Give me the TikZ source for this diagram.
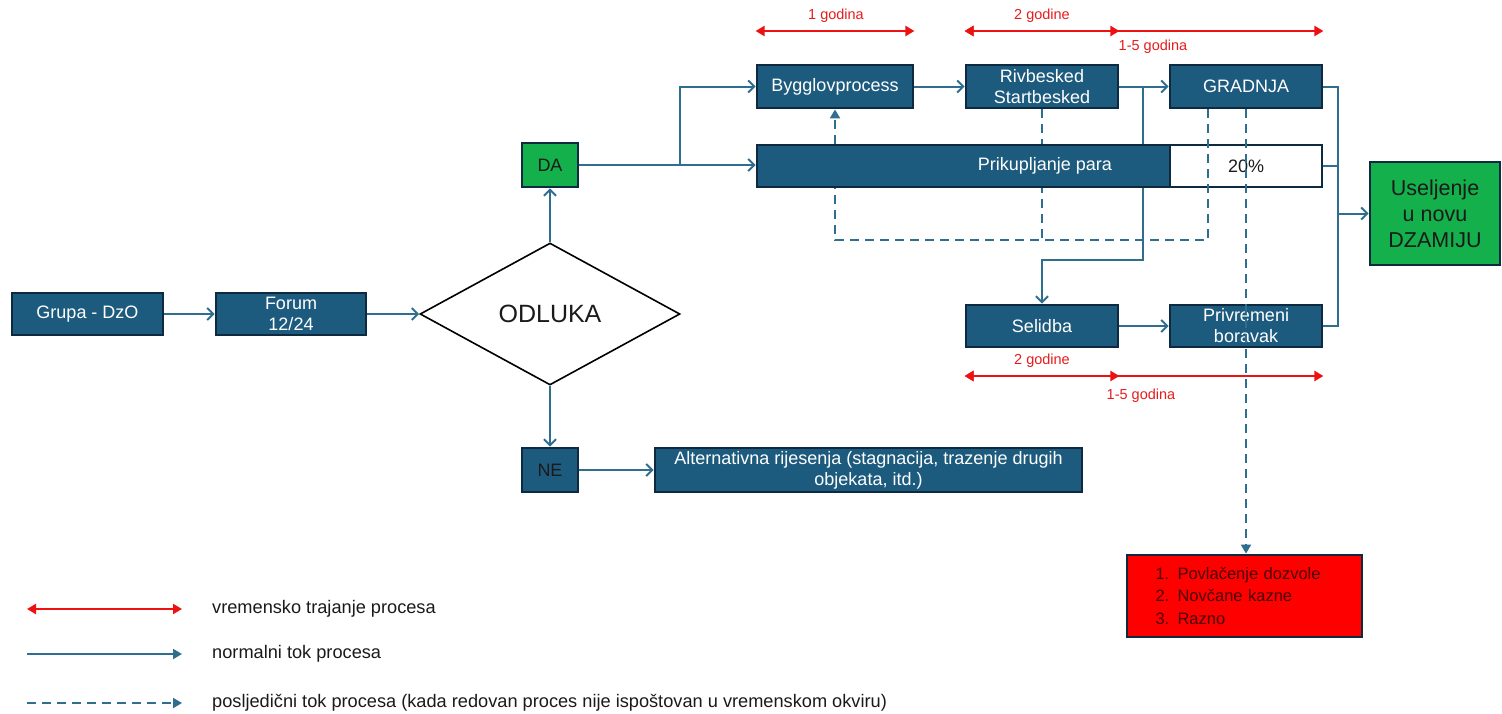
\documentclass[tikz,border=0pt]{standalone}
\usepackage{fontspec}
\setmainfont{Liberation Sans}
\usetikzlibrary{arrows.meta,shapes.geometric}
\definecolor{boxblue}{HTML}{1D5B7E}
\definecolor{boxedge}{HTML}{0E2A40}
\definecolor{flowc}{HTML}{2F6E8F}
\definecolor{greenc}{HTML}{14B04C}
\definecolor{timec}{HTML}{EE1111}
\definecolor{redlbl}{HTML}{E51C1C}
\definecolor{darktxt}{HTML}{1A1A1A}
\definecolor{redtxt}{HTML}{4A0000}
\begin{document}
\begin{tikzpicture}[x=1pt,y=-1pt,
  box/.style={draw=boxedge,line width=2.8pt,fill=boxblue,text=white,inner sep=0pt,align=center,font=\fontsize{18}{21}\selectfont},
  gbox/.style={box,fill=greenc,text=darktxt},
  flow/.style={draw=flowc,line width=2pt,-{Straight Barb[length=6pt,width=12pt,line width=2pt]}},
  line/.style={draw=flowc,line width=2pt},
  dashline/.style={draw=flowc,line width=2pt,dash pattern=on 9pt off 6pt},
  dashflow/.style={dashline,-{Triangle[length=9pt,width=10pt]}},
  timeline/.style={draw=timec,line width=2.8pt,{Triangle[length=9pt,width=10pt]}-{Triangle[length=9pt,width=10pt]}},
  timelbl/.style={text=redlbl,font=\fontsize{14.5}{17}\selectfont,inner sep=0pt},
  legtxt/.style={anchor=west,text=darktxt,font=\fontsize{18.2}{21}\selectfont,inner sep=0pt},
  legflow/.style={draw=flowc,line width=2pt,-{Triangle[length=9pt,width=10pt]}}
]
\useasboundingbox (0,0) rectangle (1502,713);

% main nodes
\node[box,minimum width=151pt,minimum height=42pt] (grupa) at (87.5,314) {Grupa - DzO};
\node[box,minimum width=150pt,minimum height=42pt] (forum) at (291,314) {Forum\\12/24};
\node[draw=black,line width=1.6pt,shape=diamond,minimum width=260pt,minimum height=142pt,inner sep=0pt,font=\fontsize{25}{28}\selectfont,text=darktxt] (odluka) at (550,314) {ODLUKA};
\node[gbox,minimum width=56pt,minimum height=44pt] (da) at (550,165) {DA};
\node[box,text=darktxt,minimum width=56pt,minimum height=44pt] (ne) at (550,470) {NE};
\node[box,minimum width=427pt,minimum height=44pt] (alt) at (868.5,470) {Alternativna rijesenja (stagnacija, trazenje drugih\\objekata, itd.)};
\node[box,minimum width=156pt,minimum height=43pt] (byg) at (835,86.5) {Bygglovprocess};
\node[box,minimum width=152pt,minimum height=43pt] (riv) at (1042,86.5) {Rivbesked\\Startbesked};
\node[box,minimum width=152pt,minimum height=43pt] (grad) at (1246,86.5) {GRADNJA};
\node[box,fill=white,text=darktxt,minimum width=152pt,minimum height=42pt] (pct) at (1246,166) {20\%};
\node[box,minimum width=152pt,minimum height=42pt] (sel) at (1042,326) {Selidba};
\node[box,minimum width=152pt,minimum height=42pt] (priv) at (1246,326) {Privremeni\\boravak};
\node[gbox,minimum width=130pt,minimum height=103pt,font=\fontsize{21.5}{26}\selectfont] (usel) at (1435,213.5) {Useljenje\\u novu\\DZAMIJU};
\node[box,fill=red,text=redtxt,minimum width=235pt,minimum height=82pt,text width=178pt,align=left,font=\fontsize{16.5}{22.5}\selectfont] (red) at (1244.5,596) {1. Povlačenje dozvole\\2. Novčane kazne\\3. Razno};

% dashed loop (behind the funding bar)
\coordinate (dl) at (0,240);
\draw[dashflow] ([xshift=-38pt]grad.south) -- ([xshift=-38pt]grad.south |- dl) -- (byg.south |- dl) -- (byg.south);
\draw[dashline] (riv.south) -- (riv.south |- dl);

% solid branch to Selidba (behind the funding bar)
\coordinate (j2) at (1143,86.5);
\coordinate (j3) at (1143,260);
\draw[flow] (j2) -- (j3) -| (sel.north);

% funding bar
\node[box,minimum width=413pt,minimum height=42pt] (bar) at (963.5,166) {};
\node[text=white,font=\fontsize{18}{21}\selectfont,inner sep=0pt] (barlbl) at (1045,166) {Prikupljanje para};

% connectors
\draw[flow] (grupa) -- (forum);
\draw[flow] (forum) -- (odluka);
\draw[flow] (odluka) -- (da);
\draw[flow] (odluka) -- (ne);
\draw[flow] (ne) -- (alt);
\coordinate (j1) at (680,165);
\draw[flow] (da.east) -- (da.east -| bar.west);
\draw[flow] (j1) |- (byg.west);
\draw[flow] (byg) -- (riv);
\draw[flow] (riv) -- (grad);
\draw[flow] (sel) -- (priv);
\coordinate (bus) at (1338,0);
\draw[line] (grad.east) -- (grad.east -| bus) -- (priv.east -| bus) -- (priv.east);
\draw[line] (pct.east) -- (pct.east -| bus);
\draw[flow] (bus |- usel.west) -- (usel.west);

% consequence line to red box
\draw[dashflow] (grad.south) -- (grad.south |- red.north);

% time spans top
\coordinate (tt) at (0,31);
\draw[timeline] (byg.west |- tt) -- (byg.east |- tt);
\node[timelbl] (l1) at (836,16) {1 godina};
\draw[timeline] (riv.west |- tt) -- (grad.east |- tt);
\draw[timeline] (riv.west |- tt) -- (riv.east |- tt);
\node[timelbl] (l2) at (1042,16) {2 godine};
\node[timelbl] (l3) at (1153,47) {1-5 godina};

% time spans bottom
\coordinate (tb) at (0,376);
\draw[timeline] (sel.west |- tb) -- (priv.east |- tb);
\draw[timeline] (sel.west |- tb) -- (sel.east |- tb);
\node[timelbl] (l4) at (1042,361) {2 godine};
\node[timelbl] (l5) at (1141,396) {1-5 godina};

% legend
\coordinate (la1) at (27,609); \coordinate (lb1) at (182,609);
\coordinate (la2) at (27,654); \coordinate (lb2) at (182,654);
\coordinate (la3) at (27,703); \coordinate (lb3) at (182,703);
\draw[timeline] (la1) -- (lb1);
\draw[legflow] (la2) -- (lb2);
\draw[dashflow] (la3) -- (lb3);
\node[legtxt] (t1) at (212,609) {vremensko trajanje procesa};
\node[legtxt] (t2) at (212,654) {normalni tok procesa};
\node[legtxt] (t3) at (212,703) {posljedični tok procesa (kada redovan proces nije ispoštovan u vremenskom okviru)};
\end{tikzpicture}
\end{document}
